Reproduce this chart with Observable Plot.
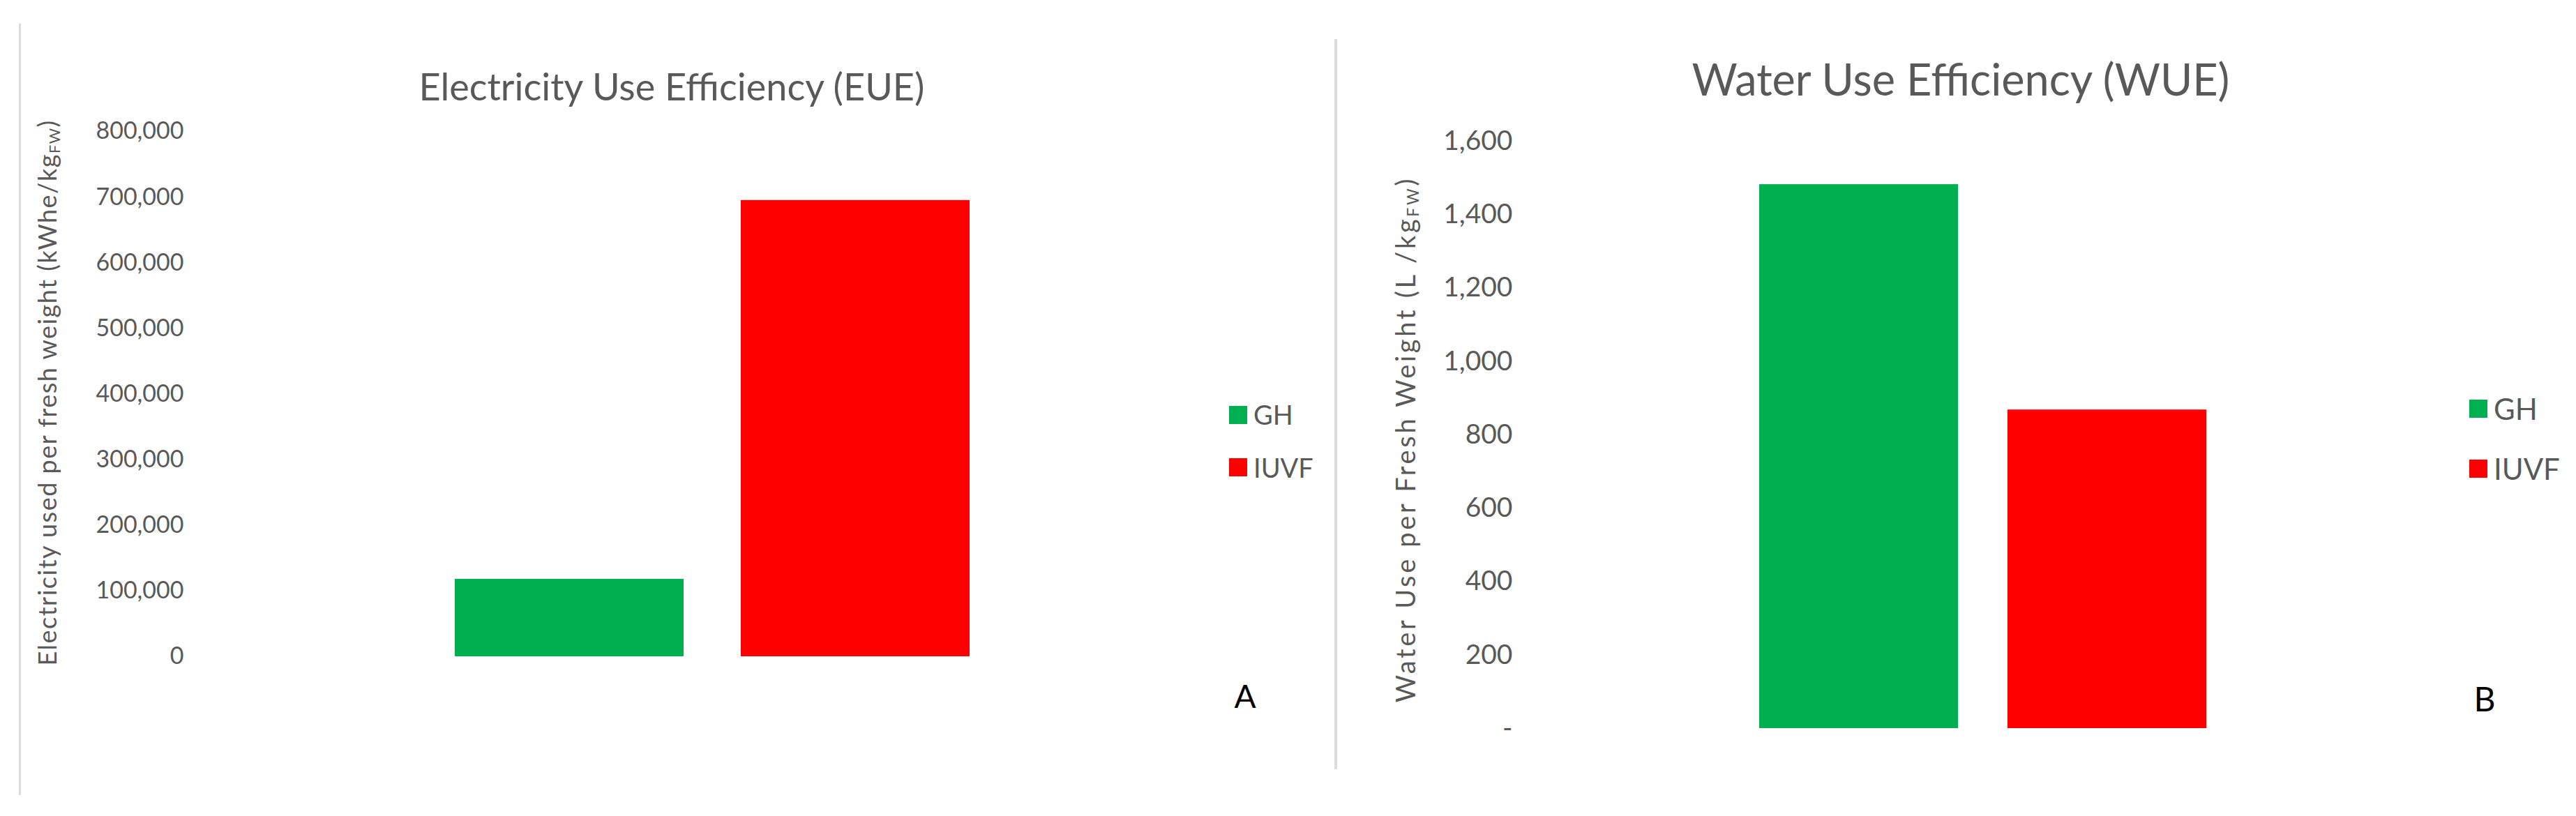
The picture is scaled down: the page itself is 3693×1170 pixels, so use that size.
<!DOCTYPE html>
<html>
<head>
<meta charset="utf-8">
<script src="https://cdn.jsdelivr.net/npm/d3@7"></script>
<script src="https://cdn.jsdelivr.net/npm/@observablehq/plot@0.6"></script>
<style>
  html, body { margin: 0; padding: 0; background: #fff; }
  #root { position: relative; width: 3693px; height: 1170px; overflow: hidden; font-family: Lato, "Open Sans", sans-serif; color: #595959; background: #fff; }
  .panel { position: absolute; top: 0; }
  .title { position: absolute; white-space: nowrap; transform: translate(-50%, -50%); line-height: 1.2; color: #595959; }
  .ylab { position: absolute; white-space: nowrap; transform: translate(-50%, -50%) rotate(-90deg); line-height: 1.2; color: #595959; }
  .ylab sub { font-size: 0.6em; vertical-align: -0.2em; line-height: 0; }
  .border { position: absolute; background: #dcdcdc; }
  .letter { position: absolute; color: #000; transform: translate(-50%, -50%); line-height: 1.2; }
  .legend { position: absolute; white-space: nowrap; }
  .legend div { line-height: 1.25 !important; font-family: Lato, sans-serif !important; color: #595959 !important; margin: 0 !important; overflow: visible !important; white-space: nowrap !important; text-overflow: clip !important; width: auto !important; max-width: none !important; }
  .lgl-swatches-columns .lgl-swatch { padding-bottom: 28px !important; }
  .lgr-swatches-columns .lgr-swatch { padding-bottom: 33px !important; }
  .lgl-swatch svg, .lgr-swatch svg { margin-right: 9px !important; }
</style>
</head>
<body>
<div id="root"></div>
<script>
// ---------- data ----------
const categories = ["GH", "IUVF"];
const barColors = ["#00B050", "#FF0000"];
const eueValues = [118000, 695000];
const wueValues = [1482, 868];
const eueTicks = [0, 100000, 200000, 300000, 400000, 500000, 600000, 700000, 800000];
const wueTicks = [0, 200, 400, 600, 800, 1000, 1200, 1400, 1600];
const eueTitle = "Electricity Use Efficiency (EUE)";
const wueTitle = "Water Use Efficiency (WUE)";

const root = document.getElementById("root");
const fmt = d3.format(",");

function addDiv(cls, html, styles) {
  const d = document.createElement("div");
  d.className = cls;
  d.innerHTML = html;
  Object.assign(d.style, styles);
  root.appendChild(d);
  return d;
}

function panel({values, ticks, yMax, zeroLabel, left, width, marginTop, marginBottom, marginLeft, xRange, tickFont}) {
  const data = categories.map((c, i) => ({cat: c, value: values[i]}));
  const chart = Plot.plot({
    width, height: 1170,
    marginTop, marginBottom, marginLeft, marginRight: 0,
    style: {background: "transparent", fontFamily: "Lato, sans-serif", fontSize: tickFont + "px", color: "#595959", overflow: "visible"},
    x: {domain: categories, range: xRange, paddingInner: 0.2, paddingOuter: 0.5, axis: null},
    y: {domain: [0, yMax], axis: null},
    color: {domain: categories, range: barColors},
    marks: [
      Plot.barY(data, {x: "cat", y: "value", fill: "cat"}),
      Plot.axisY({ticks, tickSize: 0, tickPadding: 3, label: null,
        tickFormat: d => d === 0 ? zeroLabel : fmt(d)})
    ]
  });
  const wrap = document.createElement("div");
  wrap.className = "panel";
  wrap.style.left = left + "px";
  wrap.appendChild(chart);
  root.appendChild(wrap);
}

// ---------- panel A ----------
panel({values: eueValues, ticks: eueTicks, yMax: 800000, zeroLabel: "0",
  left: 0, width: 1900, marginTop: 188, marginBottom: 229, marginLeft: 266,
  xRange: [447, 1595], tickFont: 34});

// ---------- panel B ----------
panel({values: wueValues, ticks: wueTicks, yMax: 1600, zeroLabel: "-",
  left: 1900, width: 1793, marginTop: 202, marginBottom: 126, marginLeft: 271,
  xRange: [442.5, 1442], tickFont: 39});

// borders of the two chart boxes
addDiv("border", "", {left: "27px", top: "34px", width: "3px", height: "1106px"});
addDiv("border", "", {left: "1913px", top: "56px", width: "4px", height: "1047px"});

// titles
addDiv("title", eueTitle, {left: "963px", top: "124px", fontSize: "54px"});
addDiv("title", wueTitle, {left: "2811px", top: "113px", fontSize: "63px"});

// y labels
addDiv("ylab", "Electricity used per fresh weight (kWhe/kg<sub>FW</sub>)", {left: "68px", top: "563px", fontSize: "36px", letterSpacing: "1.5px"});
addDiv("ylab", "Water Use per Fresh Weight (L /kg<sub>FW</sub>)", {left: "2015px", top: "630px", fontSize: "38px", letterSpacing: "3.7px"});

// panel letters
addDiv("letter", "A", {left: "1785px", top: "998px", fontSize: "46px"});
addDiv("letter", "B", {left: "3562px", top: "1002px", fontSize: "48px"});

// legends
function legend(className, left, top, fontSize) {
  const lg = Plot.legend({
    color: {domain: categories, range: barColors, type: "categorical"},
    legend: "swatches", columns: 1, swatchSize: 26, className,
    style: {fontSize: fontSize + "px", fontFamily: "Lato, sans-serif", color: "#595959"}
  });
  const wrap = document.createElement("div");
  wrap.className = "legend";
  wrap.style.left = left + "px";
  wrap.style.top = top + "px";
  wrap.style.fontSize = fontSize + "px";
  wrap.appendChild(lg);
  root.appendChild(wrap);
}
legend("lgl", 1762, 571, 38);
legend("lgr", 3540, 560, 42);
</script>
</body>
</html>
